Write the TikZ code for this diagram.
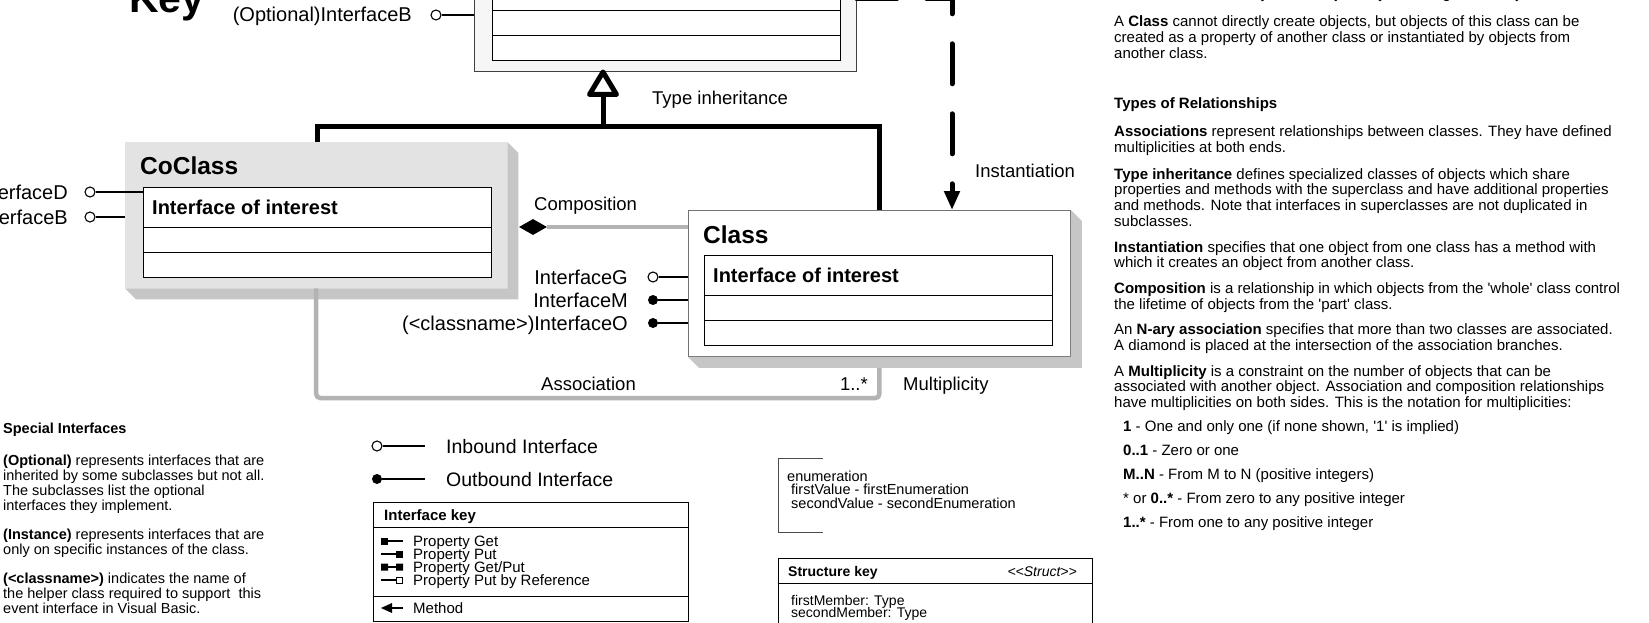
\documentclass[tikz,border=0pt]{standalone}
\usepackage{fontspec}
\setmainfont{Liberation Sans}
\usetikzlibrary{arrows.meta,shapes.geometric}
\definecolor{cogray}{HTML}{E3E3E3}
\definecolor{shgray}{HTML}{C6C6C6}
\definecolor{lngray}{HTML}{B3B3B3}
\definecolor{abgray}{HTML}{F6F6F6}
\newcommand\fsz[2]{\fontsize{#1}{#2}\selectfont}
\newcommand\txtlines[1]{\begin{tabular}[t]{@{}l@{}}#1\end{tabular}}
\tikzset{
  txt/.style={inner sep=0pt, anchor=base west, font=\fsz{18.5}{21}},
  ifname/.style={inner sep=0pt, anchor=base east, font=\fsz{20}{23}},
  blk/.style={inner sep=0pt, anchor=base west},
  clstitle/.style={inner sep=0pt, anchor=base west, font=\bfseries\fsz{24.5}{28}},
  ioi/.style={inner sep=0pt, anchor=base west, font=\bfseries\fsz{20}{23}},
  clsouter/.style={anchor=north west, minimum width=382pt, minimum height=146pt, inner sep=0pt},
  clsinner/.style={anchor=north west, draw, line width=1.4pt, fill=white, minimum width=348pt, minimum height=90pt, inner sep=0pt},
  inb/.style={circle, draw, line width=1.1pt, fill=white, minimum size=10pt, inner sep=0pt},
  outb/.style={circle, fill, minimum size=10pt, inner sep=0pt},
  stick/.style={line width=1.1pt},
  inh/.style={line width=5pt},
  gry/.style={line width=4.5pt, draw=lngray},
  inst/.style={line width=5pt, line cap=round, dash pattern=on 40pt off 30pt},
}
\begin{document}
\begin{tikzpicture}[x=1pt,y=-1pt]
  \path[use as bounding box] (0,0) rectangle (1649,623);
  \clip (0,0) rectangle (1649,623);
  \fill[white] (0,0) rectangle (1649,623);

  \node[blk, font=\bfseries\fsz{41}{45}] (keylbl) at (129,13) {Key};

  % class boxes
  \node[clsouter, draw=black!75, line width=0.8pt, fill=abgray] (abstr) at (474,-75) {};
  \node[clsinner] (absint) at ([shift={(18,45)}]abstr.north west) {};
  \node[clsouter, fill=cogray] (coclass) at (125,142) {};
  \node[clsinner] (coint) at ([shift={(18,45)}]coclass.north west) {};
  \node[clsouter, draw=black!55, line width=0.8pt, fill=white] (class) at (688,210) {};
  \node[clsinner] (clint) at ([shift={(16,45)}]class.north west) {};
  \foreach \n in {coclass,class}
    \fill[shgray] (\n.north east) -- ++(11,11) -- ([shift={(11,11)}]\n.south east)
      -- ([shift={(11,11)}]\n.south west) -- (\n.south west) -- (\n.south east) -- cycle;
  \foreach \n in {absint,coint,clint}
    \draw[line width=0.8pt] ([yshift=-40pt]\n.north west) -- ([yshift=-40pt]\n.north east)
      ([yshift=-65pt]\n.north west) -- ([yshift=-65pt]\n.north east);
  \node[clstitle] (coname) at ([shift={(15,33)}]coclass.north west) {CoClass};
  \node[ioi] (coioi) at ([shift={(9,27)}]coint.north west) {Interface of interest};
  \node[clstitle] (clname) at ([shift={(15,33)}]class.north west) {Class};
  \node[ioi] (clioi) at ([shift={(9,27)}]clint.north west) {Interface of interest};

  % interfaces
  \node[inb] (optb) at (436,15) {};
  \node[ifname] (optbl) at (412,22) {(Optional)InterfaceB};
  \draw[stick] (optb) -- (abstr.west |- optb);
  \node[inb] (ifd) at (90,192) {};
  \node[ifname] (ifdl) at (68,199) {InterfaceD};
  \draw[stick] (ifd) -- (coint.west |- ifd);
  \node[inb] (ifb) at (90,217) {};
  \node[ifname] (ifbl) at (68,224) {InterfaceB};
  \draw[stick] (ifb) -- (coclass.west |- ifb);
  \node[inb] (ifg) at (653,277) {};
  \node[ifname] (ifgl) at (628,284) {InterfaceG};
  \draw[stick] (ifg) -- (class.west |- ifg);
  \node[outb] (ifm) at (653,300) {};
  \node[ifname] (ifml) at (628,307) {InterfaceM};
  \draw[stick] (ifm) -- (class.west |- ifm);
  \node[outb] (ifo) at (653,323) {};
  \node[ifname] (ifol) at (628,330) {(<classname>)InterfaceO};
  \draw[stick] (ifo) -- (class.west |- ifo);

  % relationships
  \coordinate (inhtip) at (603,72);
  \coordinate (inhl) at (317,127);
  \draw[inh] (coclass.north -| inhl) -- (inhl) -- (class.north |- inhl) -- (class.north);
  \draw[inh] (inhtip |- inhl) -- ++(0,-33);
  \draw[inh, fill=white, line join=round] (inhtip) -- ++(-13.5,22.5) -- ++(27,0) -- cycle;
  \node[txt] (inhlbl) at (652,105) {Type inheritance};

  \coordinate (insttop) at (952,-1);
  \draw[inst, -{Triangle[length=19pt,width=15pt]}] (abstr.east |- insttop) -- (insttop) -- (class.north -| insttop);
  \node[txt] (instlbl) at (975,177) {Instantiation};

  \node[diamond, fill, minimum width=28pt, minimum height=16pt, inner sep=0pt] (comp) at (533,227) {};
  \draw[gry] (comp.east) -- (class.west |- comp);
  \node[txt] (complbl) at (534,210) {Composition};

  \coordinate (aslevel) at (0,398);
  \draw[gry, rounded corners=4pt] (coclass.south) -- (coclass.south |- aslevel) -- (class.south |- aslevel) -- ([yshift=-11pt]class.south);
  \node[txt] (aslbl) at (541,390) {Association};
  \node[txt, anchor=base east] (mult) at (868,390) {1..*};
  \node[txt] (multlbl) at (903,390) {Multiplicity};

  % legend
  \node[inb] (inleg) at (377,446) {};
  \coordinate (inlegend) at (425,446);
  \draw[stick] (inleg) -- (inlegend);
  \node[blk, font=\fsz{19.5}{22}] (inlbl) at (446,453) {Inbound Interface};
  \node[outb] (outleg) at (377,479) {};
  \coordinate (outlegend) at (425,479);
  \draw[stick] (outleg) -- (outlegend);
  \node[blk, font=\fsz{19.5}{22}] (outlbl) at (446,486) {Outbound Interface};

  \node[draw, line width=1.4pt, anchor=north west, minimum width=315pt, minimum height=119pt, inner sep=0pt] (ikey) at (373,502) {};
  \draw[line width=1pt] ([yshift=-25pt]ikey.north west) -- ([yshift=-25pt]ikey.north east)
    ([yshift=-94pt]ikey.north west) -- ([yshift=-94pt]ikey.north east);
  \node[blk, font=\bfseries\fsz{15}{17}] (ikeyhd) at (384,520) {Interface key};
  \foreach \t [count=\i] in {Property Get,Property Put,Property Get/Put,Property Put by Reference}
    \node[blk, font=\fsz{15}{17}] (ikey\i) at (413,{532.7+13.3*\i}) {\t};
  \node[blk, font=\fsz{15}{17}] (ikeymt) at (413,613) {Method};
  \fill (381,537.5) rectangle (388,544.5);
  \draw[stick] (388,541) -- (403,541);
  \draw[stick] (381,554) -- (396,554);
  \fill (396,550.5) rectangle (403,557.5);
  \fill (381,563.5) rectangle (388,570.5) (396,563.5) rectangle (403,570.5);
  \draw[stick] (388,567) -- (396,567);
  \draw[stick] (381,580) -- (396,580);
  \draw[line width=0.9pt, fill=white] (396.5,577) rectangle (402.5,583);
  \fill (381,608) -- (392,603) -- (392,613) -- cycle;
  \draw[stick] (392,608) -- (403,608);

  \draw[line width=0.8pt, black!70] (823,458) -- (778,458) -- (778,532) -- (823,532);
  \node[blk, font=\fsz{14.5}{16}] (enum0) at (787,481) {enumeration};
  \foreach \t [count=\i] in {firstValue - firstEnumeration,secondValue - secondEnumeration}
    \node[blk, font=\fsz{14.5}{16}] (enum\i) at (791,{481+13.5*\i}) {\t};

  \node[draw, line width=1.4pt, anchor=north west, minimum width=314pt, minimum height=80pt, inner sep=0pt] (skey) at (778,558) {};
  \draw[line width=1pt] ([yshift=-25pt]skey.north west) -- ([yshift=-25pt]skey.north east);
  \node[blk, font=\bfseries\fsz{14}{16}] (skeyhd) at (788,576) {Structure key};
  \node[blk, anchor=base east, font=\itshape\fsz{14}{16}] (skeyst) at (1077,576) {<{}<Struct>{}>};
  \foreach \t [count=\i] in {firstMember: Type,secondMember: Type}
    \node[blk, font=\fsz{14}{16}] (smem\i) at (791,{593+12*\i}) {\t};

  % notes
  \node[blk, font=\fsz{14.5}{14.7}] (special) at (3,433) {\txtlines{\textbf{Special Interfaces}\\[18pt]
    \textbf{(Optional)} represents interfaces that are\\
    inherited by some subclasses but not all.\\
    The subclasses list the optional\\
    interfaces they implement.\\[14pt]
    \textbf{(Instance)} represents interfaces that are\\
    only on specific instances of the class.\\[14pt]
    \textbf{(<classname>)} indicates the name of\\
    the helper class required to support\ \ this\\
    event interface in Visual Basic.}};

  \node[blk, font=\fsz{15}{15.7}] (notes) at (1114,-1) {\txtlines{A \textbf{CoClass} can directly create objects by declaring a new object.\\[12.3pt]
    A \textbf{Class} cannot directly create objects, but objects of this class can be\\
    created as a property of another class or instantiated by objects from\\
    another class.\\[34.3pt]
    \textbf{Types of Relationships}\\[12.3pt]
    \textbf{Associations} represent relationships between classes. They have defined\\
    multiplicities at both ends.\\[11.3pt]
    \textbf{Type inheritance} defines specialized classes of objects which share\\
    properties and methods with the superclass and have additional properties\\
    and methods. Note that interfaces in superclasses are not duplicated in\\
    subclasses.\\[10.3pt]
    \textbf{Instantiation} specifies that one object from one class has a method with\\
    which it creates an object from another class.\\[10.3pt]
    \textbf{Composition} is a relationship in which objects from the \textquotesingle whole\textquotesingle{} class control\\
    the lifetime of objects from the \textquotesingle part\textquotesingle{} class.\\[9.3pt]
    An \textbf{N-ary association} specifies that more than two classes are associated.\\
    A diamond is placed at the intersection of the association branches.\\[10.3pt]
    A \textbf{Multiplicity} is a constraint on the number of objects that can be\\
    associated with another object. Association and composition relationships\\
    have multiplicities on both sides. This is the notation for multiplicities:\\[8.3pt]
    \hspace*{9pt}\textbf{1} - One and only one (if none shown, \textquotesingle 1\textquotesingle{} is implied)\\[8.3pt]
    \hspace*{9pt}\textbf{0..1} - Zero or one\\[8.3pt]
    \hspace*{9pt}\textbf{M..N} - From M to N (positive integers)\\[8.3pt]
    \hspace*{9pt}* or \textbf{0..*} - From zero to any positive integer\\[8.3pt]
    \hspace*{9pt}\textbf{1..*} - From one to any positive integer}};
\end{tikzpicture}
\end{document}
